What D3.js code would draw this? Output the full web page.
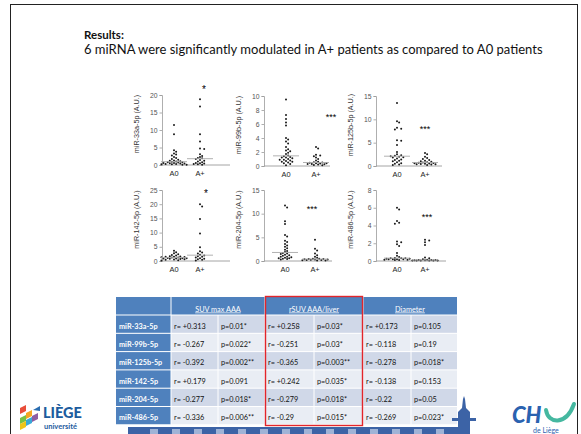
<!DOCTYPE html>
<html><head><meta charset="utf-8">
<script src="https://cdn.jsdelivr.net/npm/d3@7"></script>
<style>body{margin:0;background:#fff}svg{display:block}</style>
</head><body><svg id="c" width="581" height="434"></svg>
<script>
// ---------------- data ----------------
const titleText = "Results:";
const subtitleText = "6 miRNA were significantly modulated in A+ patients as compared to A0 patients";
const groups = ["A0", "A+"];
const mirnas = ["miR-33a-5p", "miR-99b-5p", "miR-125b-5p", "miR-142-5p", "miR-204-5p", "miR-486-5p"];
const yMaxes = [20, 10, 15, 25, 15, 8];
const yTickVals = [[0,5,10,15,20],[0,2,4,6,8,10],[0,5,10,15],[0,5,10,15,20,25],[0,5,10,15],[0,2,4,6,8]];

const a0_33a = [11.4,8.8,4.2,3.8,3.3,3.0,2.7,2.3,2.0,1.7,1.5,1.3,1.2,1.1,1.0,0.9,0.8,0.8,0.7,0.6,0.6,0.5,0.4,0.4,0.3,0.3,0.2,0.2,0.1,0.1];
const ap_33a = [18.8,16.7,8.8,6.7,4.7,4.6,3.1,2.6,2.3,2.0,1.9,1.7,1.4,1.2,1.0,0.8,0.6,0.5,0.4,0.3,0.2,0.1];
const a0_99b = [9.5,7.3,6.7,6.2,5.8,4.0,3.8,3.5,3.2,2.7,2.4,2.2,2.1,1.9,1.7,1.5,1.4,1.3,1.2,1.2,1.1,1.0,0.9,0.9,0.8,0.7,0.6,0.6,0.5,0.4,0.3,0.1];
const ap_99b = [2.7,2.5,1.6,1.5,1.4,1.2,1.0,0.8,0.6,0.55,0.5,0.45,0.4,0.4,0.35,0.3,0.3,0.25,0.2,0.15,0.1];
const a0_125b = [13.5,9.6,9.3,8.2,8.0,7.8,5.5,5.4,4.5,3.0,2.5,2.3,2.2,2.1,2.0,1.9,1.8,1.6,1.4,1.3,1.1,1.0,0.8,0.6,0.5,0.3,0.2];
const ap_125b = [2.8,2.5,2.0,1.7,1.5,1.3,1.1,1.0,0.9,0.8,0.75,0.7,0.65,0.6,0.55,0.5,0.45,0.4,0.35,0.3,0.2];
const a0_142 = [3.6,3.1,2.7,2.4,2.1,1.9,1.7,1.6,1.5,1.5,1.4,1.3,1.2,1.2,1.1,1.0,1.0,0.9,0.9,0.8,0.7,0.6,0.5,0.4,0.3,0.2];
const ap_142 = [20.0,19.2,14.8,9.7,4.8,3.4,3.0,2.6,2.2,1.9,1.7,1.5,1.2,1.0,0.8,0.6,0.4,0.2];
const a0_204 = [11.7,11.3,8.4,7.8,5.5,5.2,4.3,4.0,3.6,3.3,3.0,2.7,2.4,2.1,1.9,1.7,1.6,1.5,1.3,1.2,1.1,0.9,0.9,0.8,0.7,0.6,0.6,0.5,0.4,0.3];
const ap_204 = [4.5,2.6,2.2,1.6,1.2,0.9,0.7,0.5,0.45,0.4,0.4,0.35,0.3,0.3,0.25,0.2,0.2,0.15,0.1,0.1];
const a0_486 = [6.0,5.8,4.5,4.3,4.2,2.2,2.1,1.9,1.7,0.9,0.6,0.45,0.35,0.3,0.3,0.3,0.25,0.25,0.2,0.2,0.2,0.2,0.15,0.15,0.1,0.1];
const ap_486 = [2.4,2.3,2.1,1.8,0.4,0.3,0.2,0.15,0.1,0.1,0.1,0.08,0.08,0.05,0.05,0.05,0.05,0.05,0.05];

const seriesA0 = [a0_33a, a0_99b, a0_125b, a0_142, a0_204, a0_486];
const seriesAp = [ap_33a, ap_99b, ap_125b, ap_142, ap_204, ap_486];
const sigLabels = ["*", "***", "***", "*", "***", "***"];
const sigValues = [21.7, 7.0, 8.0, 24.0, 10.9, 5.0];

const tableHeaders = ["SUV max AAA", "rSUV AAA/liver", "Diameter"];
const rSuvMax = ["r= +0.313","r= -0.267","r= -0.392","r= +0.179","r= -0.277","r= -0.336"];
const pSuvMax = ["p=0.01*","p=0.022*","p=0.002**","p=0.091","p=0.018*","p=0.006**"];
const rRsuv   = ["r= +0.258","r= -0.251","r= -0.365","r= +0.242","r= -0.279","r= -0.29"];
const pRsuv   = ["p=0.03*","p=0.03*","p=0.003**","p=0.035*","p=0.018*","p=0.015*"];
const rDiam   = ["r= +0.173","r= -0.118","r= -0.278","r= -0.138","r= -0.22","r= -0.269"];
const pDiam   = ["p=0.105","p=0.19","p=0.018*","p=0.153","p=0.05","p=0.023*"];

// ---------------- layout ----------------
const svg = d3.select("#c");
const FONT = "Lato, 'Open Sans', sans-serif";
const AX = "Liberation Sans, Arial, sans-serif";

svg.append("rect").attr("x",10.5).attr("y",4.5).attr("width",567).attr("height",440)
  .attr("fill","none").attr("stroke","#222").attr("stroke-width",1);

svg.append("text").attr("x",84).attr("y",39).attr("font-family",FONT).attr("font-weight","bold")
  .attr("font-size",11.5).attr("fill","#111").text(titleText);
const sub = svg.append("text").attr("x",84).attr("y",54).attr("font-family",FONT)
  .attr("font-size",12).attr("fill","#111").text(subtitleText);
{ const w = sub.node().getComputedTextLength(); sub.attr("font-size", 12*459/w); }

const panelLayout = [
  {axis:162, a0:174, ap:200, end:230, top:95,  base:165, sigDx:4},
  {axis:264, a0:286, ap:316, end:330, top:96,  base:166, sigDx:15},
  {axis:376, a0:397, ap:425, end:442, top:96,  base:166, sigDx:0},
  {axis:162, a0:174, ap:200, end:230, top:190, base:261, sigDx:6},
  {axis:264, a0:285, ap:315, end:332, top:190, base:261, sigDx:-3},
  {axis:376, a0:397, ap:425, end:446, top:190, base:261, sigDx:2}
];

function swarm(vals, cx, y) {
  const sorted = vals.slice().sort((a,b)=>b-a);
  const placed = [];
  const step = 2.1, minD = 2.3, maxK = 12;
  sorted.forEach(v => {
    const py = y(v);
    let best = null, bestD = -1;
    for (let k = 0; k <= maxK; k++) {
      const off = (k % 2 === 1 ? 1 : -1) * Math.ceil(k/2) * step;
      const px = cx + off;
      const dmin = placed.length ? Math.min(...placed.map(p => Math.hypot(p.x-px, p.y-py))) : 99;
      if (dmin >= minD) { best = px; bestD = 99; break; }
      if (dmin > bestD) { bestD = dmin; best = px; }
    }
    placed.push({x:best, y:py, v});
  });
  return placed;
}

mirnas.forEach((name, i) => {
  const L = panelLayout[i];
  const g = svg.append("g");
  const y = d3.scaleLinear().domain([0, yMaxes[i]]).range([L.base, L.top]);
  const x = d3.scalePoint().domain(groups).range([L.a0, L.ap]);

  const yAxis = d3.axisLeft(y).tickValues(yTickVals[i]).tickSize(2.5).tickPadding(2);
  const ag = g.append("g").attr("transform", `translate(${L.axis},0)`).call(yAxis);
  ag.select(".domain").attr("stroke","#9a9a9a").attr("stroke-width",0.8);
  ag.selectAll(".tick line").attr("stroke","#9a9a9a").attr("stroke-width",0.8);
  ag.selectAll(".tick text").attr("font-family",AX).attr("font-size",6.8).attr("fill","#555");

  g.append("line").attr("x1",L.axis).attr("x2",L.end).attr("y1",L.base).attr("y2",L.base)
    .attr("stroke","#9a9a9a").attr("stroke-width",0.9);

  groups.forEach(gr => {
    g.append("text").attr("x", x(gr)).attr("y", L.base + 11).attr("text-anchor","middle")
      .attr("font-family",AX).attr("font-size",7.4).attr("fill","#222").text(gr);
  });

  g.append("text").attr("transform", `translate(${L.axis-23},${(L.top+L.base)/2 - 6}) rotate(-90)`)
    .attr("text-anchor","middle").attr("font-family",AX).attr("font-size",7.2).attr("fill","#333")
    .text(name + " (A.U.)");

  [[seriesA0[i], "A0"], [seriesAp[i], "A+"]].forEach(([vals, gr]) => {
    const pts = swarm(vals, x(gr), y);
    g.selectAll(null).data(pts).enter().append("circle")
      .attr("cx", d => d.x).attr("cy", d => d.y).attr("r", 1.0).attr("fill","#1a1a1a");
    const m = d3.median(vals);
    g.append("line").attr("x1", x(gr)-13).attr("x2", x(gr)+13).attr("y1", y(m)).attr("y2", y(m))
      .attr("stroke","#a8a8a8").attr("stroke-width",0.9);
  });

  g.append("text").attr("x", x("A+") + L.sigDx).attr("y", y(sigValues[i]) + (sigLabels[i]==="*"?4:3))
    .attr("text-anchor","middle").attr("font-family",AX).attr("font-size", sigLabels[i]==="*"?10:9)
    .attr("fill","#000").text(sigLabels[i]);
});

// ---------------- table ----------------
const colX = [116,171,218,265,314,363,411,457];
const headY = 297, headH = 18, rowH = 18.3;
const tbl = svg.append("g");
const BLUE = "#4F81BD";
tbl.append("rect").attr("x",colX[0]).attr("y",headY).attr("width",colX[7]-colX[0]).attr("height",headH).attr("fill",BLUE);
[1,3,5].forEach(k => tbl.append("line").attr("x1",colX[k]).attr("x2",colX[k]).attr("y1",headY).attr("y2",headY+headH).attr("stroke","#fff").attr("stroke-width",1));
tableHeaders.forEach((h, k) => {
  tbl.append("text").attr("x",(colX[1+2*k]+colX[3+2*k])/2).attr("y",headY+headH-3.5).attr("text-anchor","middle")
    .attr("font-family",FONT).attr("font-size",7.3).attr("fill","#fff").attr("text-decoration","underline").text(h);
});
const cols = [rSuvMax, pSuvMax, rRsuv, pRsuv, rDiam, pDiam];
mirnas.forEach((name, r) => {
  const y0 = headY + headH + r*rowH;
  tbl.append("rect").attr("x",colX[0]).attr("y",y0).attr("width",colX[1]-colX[0]).attr("height",rowH).attr("fill",BLUE);
  tbl.append("rect").attr("x",colX[1]).attr("y",y0).attr("width",colX[7]-colX[1]).attr("height",rowH)
    .attr("fill", r%2===0 ? "#D0D8E8" : "#E9EDF4");
  tbl.append("text").attr("x",colX[0]+3).attr("y",y0+rowH-4.5).attr("font-family",FONT).attr("font-weight","bold")
    .attr("font-size",7.3).attr("fill","#fff").text(name);
  cols.forEach((c, k) => {
    tbl.append("text").attr("x",colX[1+k]+3).attr("y",y0+rowH-4.5).attr("font-family",FONT)
      .attr("font-size",7.3).attr("fill","#111").text(c[r]);
  });
});
for (let r = 0; r <= mirnas.length; r++) {
  const yy = headY + headH + r*rowH;
  tbl.append("line").attr("x1",colX[0]).attr("x2",colX[7]).attr("y1",yy).attr("y2",yy).attr("stroke","#fff").attr("stroke-width",1);
}
colX.slice(1,7).forEach(cx => tbl.append("line").attr("x1",cx).attr("x2",cx).attr("y1",headY+headH).attr("y2",headY+headH+6*rowH).attr("stroke","#fff").attr("stroke-width",1));
svg.append("rect").attr("x",265.5).attr("y",296.5).attr("width",97).attr("height",129)
  .attr("fill","none").attr("stroke","#E2252B").attr("stroke-width",1.4);

// ---------------- decorative footer ----------------
const ft = svg.append("g");
ft.append("rect").attr("x",128).attr("y",427).attr("width",342).attr("height",8).attr("fill","#3C63A6");
for (let k = 0; k < 14; k++) ft.append("rect").attr("x",150+k*22).attr("y",429).attr("width",8).attr("height",5).attr("fill","#9fb3d6");
ft.append("path").attr("d","M458,434 L458,412 L462,408 L463,399 L464,396 L465,399 L466,408 L470,412 L470,434 Z").attr("fill","#3C63A6");
ft.append("rect").attr("x",452).attr("y",418).attr("width",24).attr("height",3).attr("fill","#3C63A6");

const lg = svg.append("g");
const cols4 = ["#e94e3a","#f5a623","#7ac143","#3aa8d8","#8e5ea2","#f0c419"];
[[20,408],[26,413],[20,418],[26,420],[32,416],[20,424]].forEach((p,k) =>
  lg.append("path").attr("d",`M${p[0]},${p[1]} l6,-3 l0,6 l-6,3 z`).attr("fill",cols4[k]));
lg.append("path").attr("d","M33,410 l7,-4 l0,5 z").attr("fill","#2a6db0");
lg.append("text").attr("x",43).attr("y",418).attr("font-family",FONT).attr("font-weight","900").attr("font-size",14.5)
  .attr("fill","#1d5c9e").text("LIÈGE");
lg.append("text").attr("x",44).attr("y",428.5).attr("font-family",FONT).attr("font-weight","bold").attr("font-size",7.5)
  .attr("fill","#1d5c9e").text("université");

const ch = svg.append("g");
ch.append("text").attr("x",512).attr("y",423).attr("font-family",FONT).attr("font-weight","900").attr("font-style","italic")
  .attr("font-size",22).attr("fill","#2a62b0").text("CH");
ch.append("path").attr("d","M546,410 C548,424 566,426 574,404").attr("fill","none").attr("stroke","#45b8a0").attr("stroke-width",4).attr("stroke-linecap","round");
ch.append("text").attr("x",533).attr("y",433).attr("font-family",FONT).attr("font-size",7).attr("fill","#2a62b0").text("de Liège");
</script></body></html>
